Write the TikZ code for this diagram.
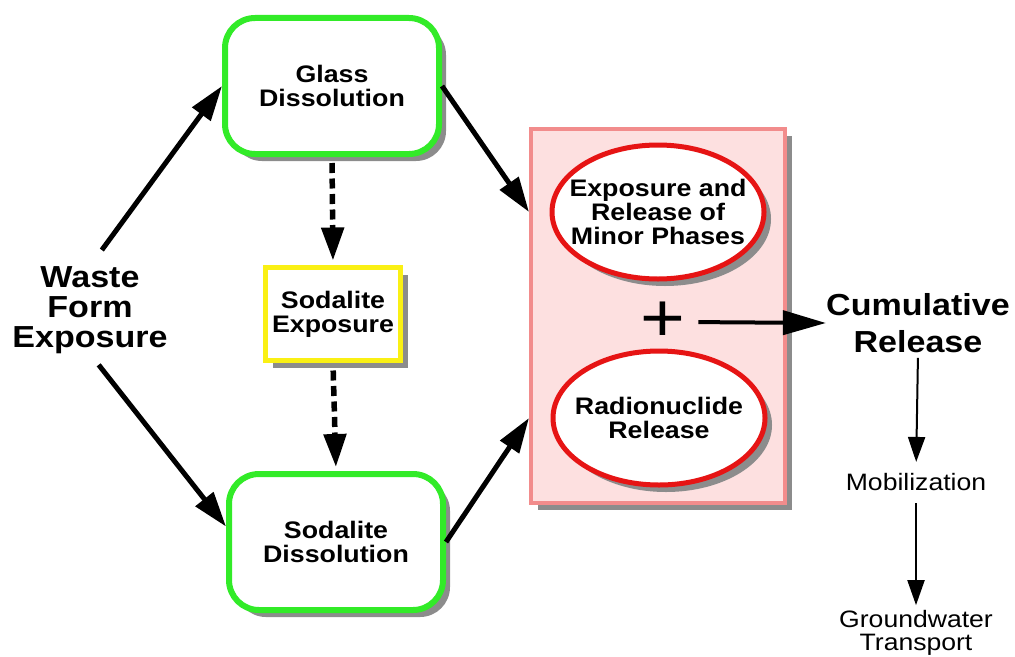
\documentclass[tikz,border=0pt]{standalone}
\usepackage{fontspec}
\setmainfont{Liberation Sans}[FakeStretch=1.12]
\usetikzlibrary{shapes.geometric,shadows,arrows.meta}
\definecolor{boxgreen}{RGB}{50,235,40}
\definecolor{boxyellow}{RGB}{250,240,20}
\definecolor{ovalred}{RGB}{230,20,20}
\definecolor{panelpink}{RGB}{253,224,224}
\definecolor{panelrim}{RGB}{242,140,140}

\begin{document}
\begin{tikzpicture} [
	x=0.2mm,y=-0.2mm,
	align=center,
	boxshadow/.style={
		drop shadow={shadow xshift=1.4mm,shadow yshift=-1.4mm,fill=black!45,opacity=1}
	},
	nround/.style={
		rectangle,rounded corners=6mm,draw=boxgreen,line width=1.2mm,
		fill=white,boxshadow,minimum width=42.8mm,minimum height=27.2mm,inner sep=0
	},
	nsquare/.style={
		rectangle,draw=boxyellow,line width=1mm,
		fill=white,boxshadow,minimum width=27mm,minimum height=18.6mm,inner sep=0
	},
	npanel/.style={
		rectangle,draw=panelrim,line width=0.8mm,
		fill=panelpink,boxshadow,minimum width=50.8mm,minimum height=74.8mm
	},
	noval/.style={
		ellipse,draw=ovalred,line width=1mm,fill=white,boxshadow,
		minimum width=42.4mm,minimum height=26.8mm,inner xsep=-3mm,inner ysep=0
	},
	nblank/.style={
		inner sep=0
	},
	fbox/.style={font=\bfseries\fontsize{13.6}{13.8}\selectfont},
	fbig/.style={font=\bfseries\fontsize{17.3}{17}\selectfont},
	fcum/.style={font=\bfseries\fontsize{17.3}{21}\selectfont},
	fsmall/.style={font=\fontsize{13.5}{13}\selectfont},
	fplus/.style={font=\fontsize{39}{39}\selectfont},
	solidarrow/.style={line width=1mm,-{Triangle[length=7mm,width=4.4mm]}},
	dasharrow/.style={line width=1.1mm,dash pattern=on 2mm off 1.1mm,-{Triangle[length=6.6mm,width=4.4mm]}},
	bigarrow/.style={line width=0.8mm,-{Triangle[length=8.6mm,width=4.8mm]}},
	thinarrow/.style={line width=0.4mm,-{Triangle[length=5mm,width=3.4mm]}}
]
\useasboundingbox (0,0) rectangle (1015,656);
\node [nblank,fbig]	(waste) at (90,310)	{Waste\\Form\\Exposure};
\node [nround,fbox]	(glass) at (332,86)	{Glass\\Dissolution};
\node [nsquare,fbox]	(sexp) at (333,314)	{Sodalite\\Exposure};
\node [nround,fbox]	(sdis) at (336,542)	{Sodalite\\Dissolution};
\node [npanel]		(panel) at (658,316)	{};
\node [noval,fbox]	(minor) at (658,212)	{Exposure and\\Release of\\Minor Phases};
\node [noval,fbox]	(radio) at (659,418)	{Radionuclide\\Release};
\node [nblank,fplus]	(plus) at (663,322)	{+};
\node [nblank,fcum]	(cum) at (918,323)	{Cumulative\\Release};
\node [nblank,fsmall]	(mob) at (916,482)	{Mobilization};
\node [nblank,fsmall]	(gw) at (916,633)	{Groundwater\\Transport};

\draw [solidarrow,shorten <=4mm]	(waste.north) -- (glass.west);
\draw [solidarrow,shorten <=2.8mm]	(waste.south) -- (sdis.172);
\draw [solidarrow]	(glass.east) -- (panel.west |- minor);
\draw [solidarrow]	(sdis.east) -- (panel.west |- radio);
\draw [dasharrow,shorten <=1.2mm,shorten >=0.9mm]	(glass.south) -- (sexp.north);
\draw [dasharrow,shorten <=1.5mm,shorten >=0.8mm]	(sexp.south) -- (sdis.north);
\draw [bigarrow,shorten <=2.5mm]	(plus.east) -- (cum.west);
\draw [thinarrow,shorten <=1mm,shorten >=2.2mm]	(cum.south) -- (mob.north);
\draw [thinarrow,shorten <=2.4mm,shorten >=1mm]	(mob.south) -- (gw.north);
\end{tikzpicture}
\end{document}
